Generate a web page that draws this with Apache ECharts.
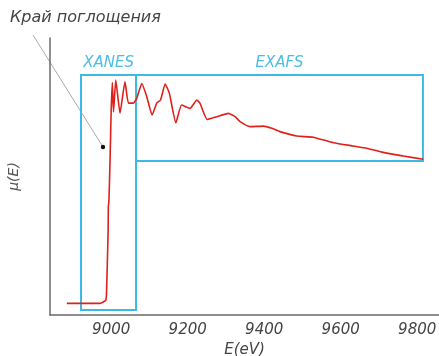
<!DOCTYPE html>
<html><head><meta charset="utf-8">
<script src="https://cdn.jsdelivr.net/npm/echarts@6/dist/echarts.min.js"></script>
<style>html,body{margin:0;padding:0;background:#fff}#c{width:439px;height:356px}</style>
</head><body><div id="c"></div>
<script>
var energy = [8884, 8971, 8986, 8988, 8992, 8992.5, 8994, 8997, 9000, 9003, 9006, 9012, 9023, 9036, 9045, 9058, 9067, 9080, 9093, 9107, 9119, 9129, 9141, 9152, 9169, 9184, 9206, 9224, 9232, 9251, 9276, 9306, 9324, 9337, 9363, 9398, 9420, 9441, 9485, 9528, 9581, 9633, 9668, 9711, 9764, 9816];
var mu = [4.2, 4.2, 5.4, 9.0, 30.7, 39.0, 41.0, 56.0, 74.0, 83.9, 73.3, 84.8, 72.9, 84.2, 76.5, 76.5, 78.3, 83.6, 78.8, 72.2, 76.5, 77.6, 83.4, 80.1, 69.4, 75.8, 74.6, 77.6, 76.5, 70.6, 71.6, 72.8, 71.6, 69.8, 68.0, 68.2, 67.4, 66.2, 64.6, 64.2, 62.2, 61.0, 60.2, 58.7, 57.4, 56.2];
var tickLabels = [9000, 9200, 9400, 9600, 9800];
var regionNames = ['XANES', 'EXAFS'];
var regionX = [[8921, 9065], [9065, 9815]];
var regionY = [[1.8, 86.6], [55.6, 86.6]];
var annotationText = 'Край поглощения';

var FONT = '"DejaVu Sans", sans-serif';
var chart = echarts.init(document.getElementById('c'));
var areas = regionNames.map(function (n, i) {
  return [{ name: n, coord: [regionX[i][0], regionY[i][1]] }, { coord: [regionX[i][1], regionY[i][0]] }];
});
chart.setOption({
  animation: false,
  grid: { left: 50, right: 0, top: 38, bottom: 41, containLabel: false, outerBoundsMode: 'none' },
  xAxis: {
    type: 'value', min: 8840, max: 9857,
    name: 'E(eV)', nameLocation: 'middle', nameGap: 24,
    nameTextStyle: { fontFamily: FONT, fontStyle: 'italic', fontSize: 15, color: '#444' },
    axisLine: { show: true, lineStyle: { color: '#6a6a6a', width: 1.5 } },
    axisTick: { show: false },
    splitLine: { show: false },
    axisLabel: { customValues: tickLabels, formatter: function (v) { return String(v); }, fontFamily: FONT, fontStyle: 'italic', fontSize: 15, color: '#444', margin: 8 }
  },
  yAxis: {
    type: 'value', min: 0, max: 100,
    name: 'μ(E)', nameLocation: 'middle', nameGap: 29, nameRotate: 90,
    nameTextStyle: { fontFamily: FONT, fontStyle: 'italic', fontSize: 14, color: '#555' },
    axisLine: { show: true, lineStyle: { color: '#6a6a6a', width: 1.5 } },
    axisTick: { show: false }, axisLabel: { show: false }, splitLine: { show: false }
  },
  series: [{
    type: 'line', data: energy.map(function (e, i) { return [e, mu[i]]; }),
    showSymbol: false, smooth: 0.15,
    lineStyle: { color: '#e0201a', width: 1.6 },
    markArea: {
      silent: true,
      itemStyle: { color: 'rgba(0,0,0,0)', borderColor: '#3cb9e4', borderWidth: 2 },
      label: { show: true, position: 'top', distance: 4, fontFamily: FONT, fontStyle: 'italic', fontSize: 15, color: '#4dbde8' },
      data: areas
    }
  }],
  graphic: [
    { type: 'text', left: 10, top: 10, style: { text: annotationText, font: 'italic 16px ' + FONT, fill: '#444' } },
    { type: 'line', shape: { x1: 33, y1: 35, x2: 103, y2: 147 }, style: { stroke: '#aaa', lineWidth: 1 } },
    { type: 'circle', shape: { cx: 103, cy: 147, r: 2.2 }, style: { fill: '#111' } }
  ]
});
</script></body></html>
